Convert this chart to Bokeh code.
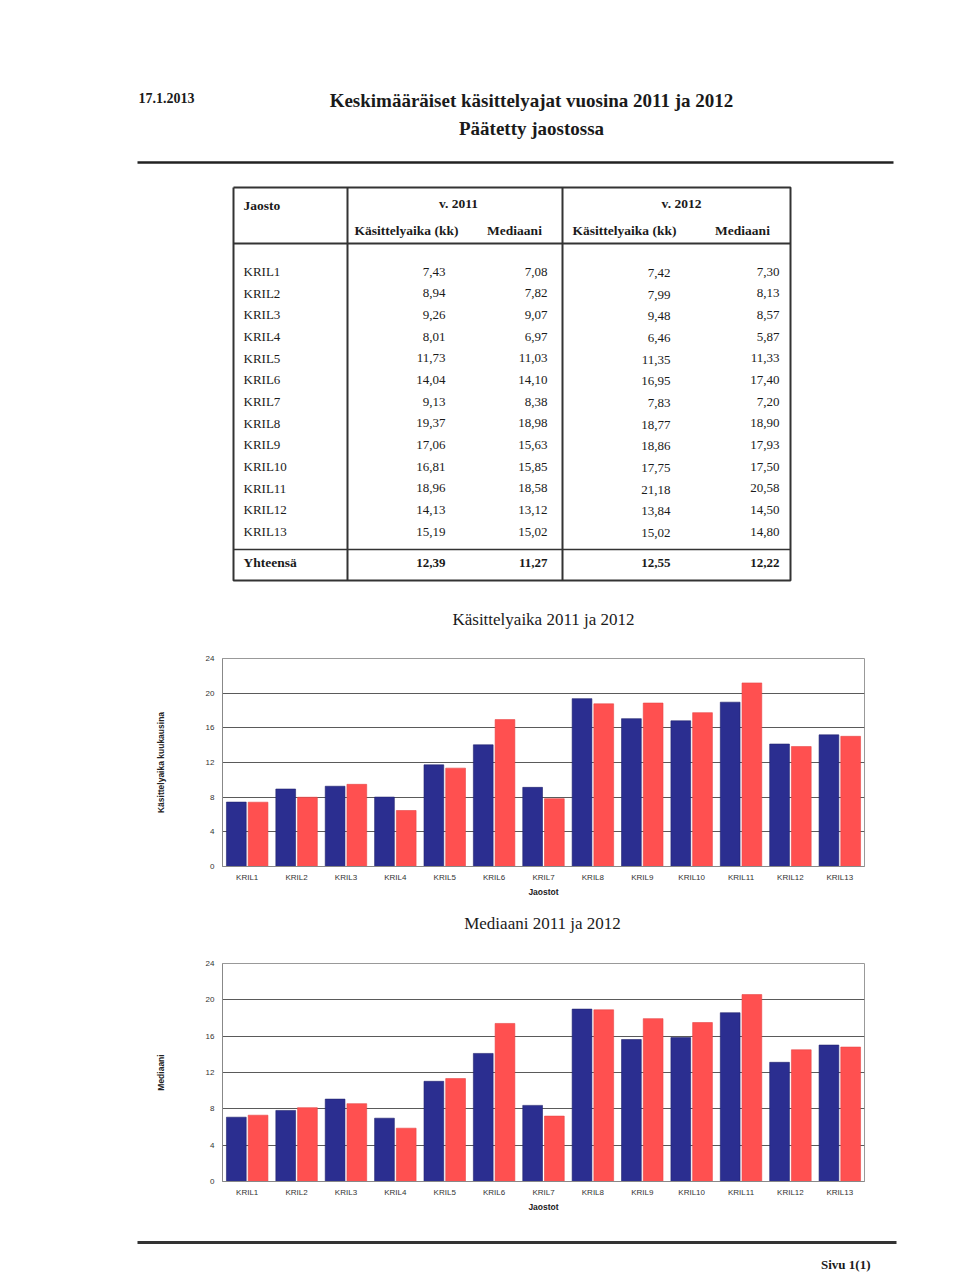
from bokeh.plotting import figure
from bokeh.models import Range1d, ColumnDataSource, FactorRange, FixedTicker
from bokeh.core.properties import value
from bokeh.transform import dodge
from bokeh.embed import file_html
from bokeh.resources import INLINE

# ---------------- data ----------------
jaostot = ["KRIL1", "KRIL2", "KRIL3", "KRIL4", "KRIL5", "KRIL6", "KRIL7",
           "KRIL8", "KRIL9", "KRIL10", "KRIL11", "KRIL12", "KRIL13"]
kasittely_2011 = [7.43, 8.94, 9.26, 8.01, 11.73, 14.04, 9.13, 19.37, 17.06, 16.81, 18.96, 14.13, 15.19]
mediaani_2011 = [7.08, 7.82, 9.07, 6.97, 11.03, 14.10, 8.38, 18.98, 15.63, 15.85, 18.58, 13.12, 15.02]
kasittely_2012 = [7.42, 7.99, 9.48, 6.46, 11.35, 16.95, 7.83, 18.77, 18.86, 17.75, 21.18, 13.84, 15.02]
mediaani_2012 = [7.30, 8.13, 8.57, 5.87, 11.33, 17.40, 7.20, 18.90, 17.93, 17.50, 20.58, 14.50, 14.80]
yhteensa = [12.39, 11.27, 12.55, 12.22]
y_ticks = [0, 4, 8, 12, 16, 20, 24]

# ---------------- styles ----------------
W = 960
SERIF = "Liberation Serif"
SANS = "Liberation Sans"
BLUE = "#2b2e90"
RED = "#ff5050"
INK = "#1a1a1a"
FRAME_L, FRAME_W = 222, 642


def fmt(v):
    return f"{v:.2f}".replace(".", ",")


def page_fig(y0, h):
    f = figure(width=W, height=h, x_range=Range1d(0, W), y_range=Range1d(y0 + h, y0),
               output_backend="svg", toolbar_location=None, min_border=0,
               x_axis_location=None, y_axis_location=None)
    f.grid.visible = False
    f.outline_line_color = None
    return f


def txt(f, x, y, s, size, bold=False, align="left", font=SERIF, baseline="middle"):
    f.text(x=[x], y=[y], text=[s], text_font=value(font), text_font_size=size,
           text_font_style="bold" if bold else "normal", text_align=align,
           text_baseline=baseline, text_color=INK)


# ---------------- top: header + table ----------------
TOP_Y0, TOP_H = 0, 640
top = page_fig(TOP_Y0, TOP_H)
txt(top, 138, 97, "17.1.2013", "14px", bold=True)
txt(top, 531, 100, "Keskimääräiset käsittelyajat vuosina 2011 ja 2012", "19px", bold=True, align="center")
txt(top, 531, 128, "Päätetty jaostossa", "19px", bold=True, align="center")
top.segment(x0=[137], y0=[162], x1=[893], y1=[162], line_width=2.5, line_color="#222222")

TL, TR, TT, TB = 233, 790, 187, 580
C1, C2 = 347, 562
top.multi_line(xs=[[TL, TR, TR, TL, TL], [C1, C1], [C2, C2]],
               ys=[[TT, TT, TB, TB, TT], [TT, TB], [TT, TB]],
               line_color="#333333", line_width=2)
top.segment(x0=[TL], y0=[243], x1=[TR], y1=[243], line_color="#333333", line_width=2.2)
top.segment(x0=[TL], y0=[549], x1=[TR], y1=[549], line_color="#333333", line_width=1.5)

HDR = "13.5px"
txt(top, 243, 205, "Jaosto", HDR, bold=True)
txt(top, 458, 203, "v. 2011", HDR, bold=True, align="center")
txt(top, 681, 203, "v. 2012", HDR, bold=True, align="center")
txt(top, 406, 230, "Käsittelyaika (kk)", HDR, bold=True, align="center")
txt(top, 514, 230, "Mediaani", HDR, bold=True, align="center")
txt(top, 624, 230, "Käsittelyaika (kk)", HDR, bold=True, align="center")
txt(top, 742, 230, "Mediaani", HDR, bold=True, align="center")

ROW0, ROWSTEP = 271, 21.67
n = len(jaostot)
rows_y = [ROW0 + i * ROWSTEP for i in range(n)]
col_right = [445, 547, 670, 779]
tsrc = ColumnDataSource(dict(
    y=rows_y, y2=[r + 1.5 for r in rows_y], lab=jaostot,
    a=[fmt(v) for v in kasittely_2011], b=[fmt(v) for v in mediaani_2011],
    c=[fmt(v) for v in kasittely_2012], d=[fmt(v) for v in mediaani_2012],
    x0=[243] * n, xa=[col_right[0]] * n, xb=[col_right[1]] * n,
    xc=[col_right[2]] * n, xd=[col_right[3]] * n,
))
top.text(x="x0", y="y", text="lab", source=tsrc, text_font=value(SERIF), text_font_size="13px",
         text_baseline="middle", text_color=INK)
for xc, col, yc in (("xa", "a", "y"), ("xb", "b", "y"), ("xc", "c", "y2"), ("xd", "d", "y")):
    top.text(x=xc, y=yc, text=col, source=tsrc, text_font=value(SERIF), text_font_size="13px",
             text_baseline="middle", text_align="right", text_color=INK)

txt(top, 243, 562, "Yhteensä", HDR, bold=True)
top.text(x=col_right, y=[562] * 4, text=[fmt(v) for v in yhteensa], text_font=value(SERIF),
         text_font_size="13px", text_font_style="bold", text_align="right",
         text_baseline="middle", text_color=INK)

txt(top, 543, 619, "Käsittelyaika 2011 ja 2012", "17px", align="center")

# ---------------- bar charts ----------------
src = ColumnDataSource(dict(jaosto=jaostot, k11=kasittely_2011, k12=kasittely_2012,
                            m11=mediaani_2011, m12=mediaani_2012))


def bar_chart(h, btop, bbottom, c11, c12, ylabel):
    p = figure(width=W, height=h, x_range=FactorRange(*jaostot), y_range=Range1d(0, 24),
               output_backend="svg", toolbar_location=None,
               min_border_left=FRAME_L, min_border_right=W - FRAME_L - FRAME_W,
               min_border_top=btop, min_border_bottom=bbottom)
    p.vbar(x=dodge("jaosto", -0.22, range=p.x_range), top=c11, width=0.40, source=src,
           fill_color=BLUE, line_color="#22246e", line_width=0.6)
    p.vbar(x=dodge("jaosto", 0.22, range=p.x_range), top=c12, width=0.40, source=src,
           fill_color=RED, line_color="#e84545", line_width=0.6)
    p.xgrid.visible = False
    p.ygrid.ticker = FixedTicker(ticks=y_ticks)
    p.ygrid.grid_line_color = "#5a5a5a"
    p.ygrid.grid_line_width = 1
    p.outline_line_color = "#999999"
    p.yaxis.ticker = FixedTicker(ticks=y_ticks)
    for ax in (p.xaxis[0], p.yaxis[0]):
        ax.axis_line_color = "#888888"
        ax.major_tick_out = 0
        ax.major_tick_in = 0
        ax.minor_tick_out = 0
        ax.minor_tick_in = 0
        ax.major_label_text_font = SANS
        ax.major_label_text_font_size = "8px"
        ax.major_label_text_color = "#333333"
        ax.axis_label_text_font = SANS
        ax.axis_label_text_font_size = "8.5px"
        ax.axis_label_text_font_style = "bold"
        ax.axis_label_text_color = "#222222"
    p.yaxis.major_label_standoff = 8
    p.yaxis.axis_label = ylabel
    p.yaxis.axis_label_standoff = 37
    p.xaxis.major_label_standoff = 6
    p.xaxis.axis_label = "Jaostot"
    p.xaxis.axis_label_standoff = 2
    return p


# chart 1: page y 640..900, frame 658..866
c1 = bar_chart(260, 18, 34, "k11", "k12", "Käsittelyaika kuukausina")

mid = page_fig(900, 40)
txt(mid, 542, 923, "Mediaani 2011 ja 2012", "17px", align="center")

# chart 2: page y 940..1215, frame 963..1181
c2 = bar_chart(275, 23, 34, "m11", "m12", "Mediaani")

# footer: page y 1215..1275
foot = page_fig(1215, 60)
foot.segment(x0=[137], y0=[1242], x1=[896], y1=[1242], line_width=3, line_color="#333333")
txt(foot, 870, 1264, "Sivu 1(1)", "13px", bold=True, align="right")

open("out.html", "w").write(file_html([top, c1, mid, c2, foot], INLINE))
